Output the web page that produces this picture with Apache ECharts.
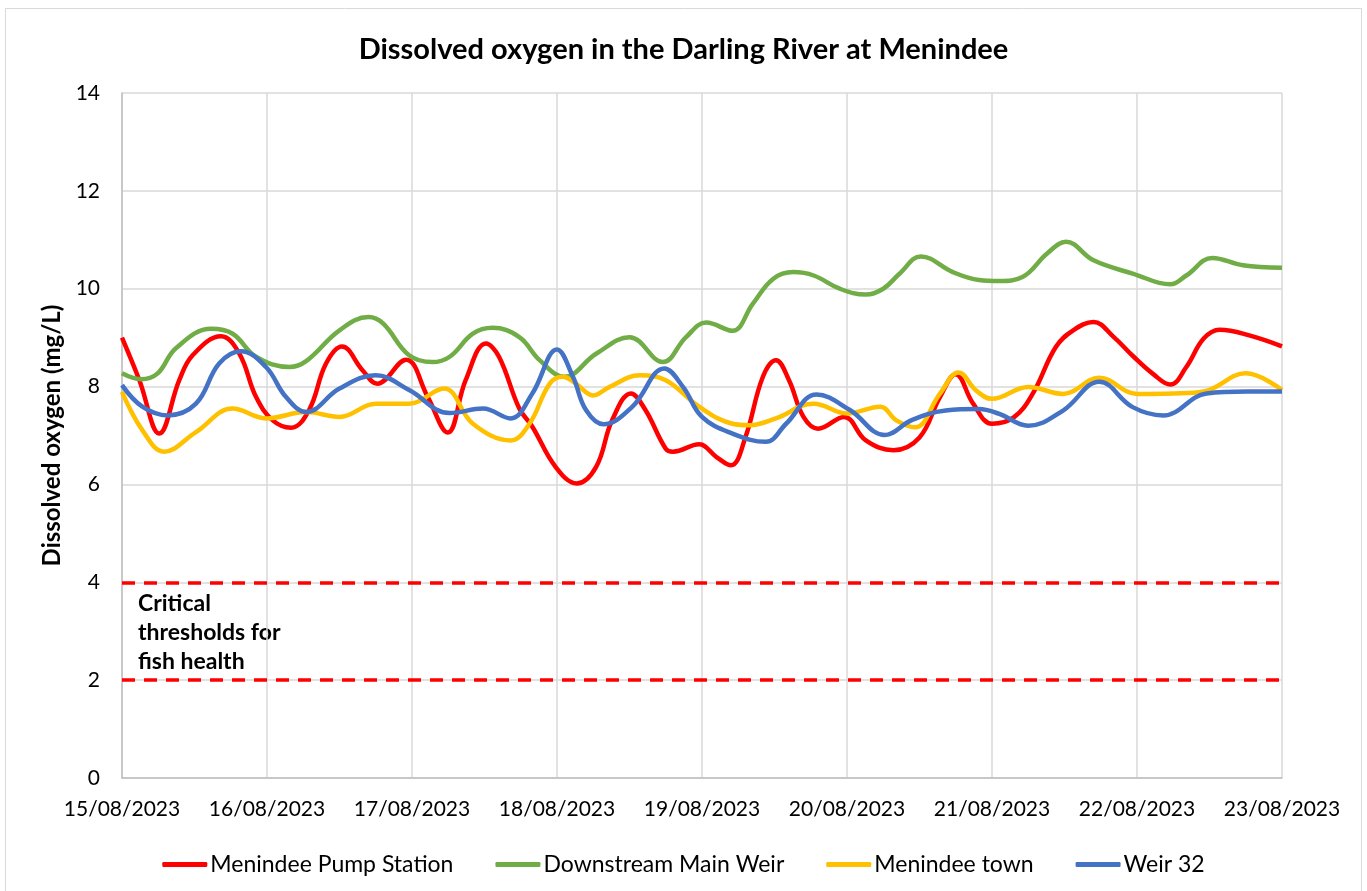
<!DOCTYPE html>
<html>
<head>
<meta charset="utf-8">
<script src="https://cdn.jsdelivr.net/npm/echarts@6/dist/echarts.min.js"></script>
<style>
html,body{margin:0;padding:0;background:#fff;}
#chart{width:1367px;height:891px;}
</style>
</head>
<body>
<div id="chart"></div>
<script>
// Tick labels for x axis (one per day, x = days since 15/08/2023)
const xLabels = ['15/08/2023','16/08/2023','17/08/2023','18/08/2023','19/08/2023','20/08/2023','21/08/2023','22/08/2023','23/08/2023'];
const seriesNames = ['Menindee Pump Station','Downstream Main Weir','Menindee town','Weir 32'];
const thresholds = [4, 2];

// [day offset, mg/L]
const pumpStation = [[0,9.0],[0.12,8.13],[0.257,7.04],[0.395,8.13],[0.487,8.64],[0.683,9.03],[0.81,8.67],[0.924,7.79],[1.04,7.31],[1.166,7.16],[1.29,7.52],[1.407,8.47],[1.517,8.82],[1.66,8.33],[1.76,8.06],[1.959,8.55],[2.108,7.79],[2.246,7.06],[2.37,8.13],[2.51,8.88],[2.60,8.61],[2.74,7.55],[2.83,7.18],[2.99,6.36],[3.136,6.02],[3.27,6.36],[3.38,7.31],[3.51,7.86],[3.61,7.52],[3.75,6.73],[3.80,6.67],[3.98,6.82],[4.10,6.56],[4.20,6.39],[4.30,6.97],[4.42,8.20],[4.51,8.54],[4.60,8.13],[4.70,7.38],[4.80,7.14],[4.98,7.38],[5.13,6.90],[5.32,6.70],[5.50,6.96],[5.64,7.78],[5.75,8.25],[5.87,7.65],[6.0,7.24],[6.15,7.37],[6.28,7.85],[6.44,8.81],[6.56,9.15],[6.70,9.32],[6.84,9.01],[6.97,8.63],[7.11,8.26],[7.23,8.04],[7.34,8.40],[7.46,8.98],[7.57,9.16],[7.78,9.04],[8.0,8.82]];
const downstreamWeir = [[0,8.27],[0.13,8.15],[0.246,8.27],[0.37,8.78],[0.614,9.18],[0.763,9.08],[0.924,8.61],[1.154,8.40],[1.27,8.52],[1.50,9.15],[1.70,9.42],[1.80,9.29],[1.98,8.64],[2.14,8.50],[2.26,8.61],[2.42,9.08],[2.556,9.20],[2.74,9.01],[2.88,8.54],[3.05,8.20],[3.27,8.67],[3.50,9.01],[3.73,8.50],[3.89,9.01],[4.03,9.31],[4.21,9.14],[4.35,9.69],[4.49,10.20],[4.63,10.34],[4.77,10.27],[4.95,10.0],[5.13,9.88],[5.25,10.0],[5.36,10.3],[5.51,10.66],[5.73,10.34],[5.91,10.18],[6.05,10.16],[6.21,10.24],[6.38,10.72],[6.51,10.96],[6.70,10.58],[6.97,10.31],[7.23,10.09],[7.34,10.27],[7.52,10.63],[7.73,10.48],[8.0,10.43]];
const menindeeTown = [[0,7.89],[0.14,7.11],[0.29,6.67],[0.51,7.07],[0.763,7.55],[0.993,7.35],[1.27,7.48],[1.50,7.38],[1.75,7.65],[1.98,7.65],[2.22,7.96],[2.42,7.24],[2.68,6.90],[2.81,7.24],[2.95,8.06],[3.04,8.20],[3.13,8.06],[3.25,7.82],[3.36,7.99],[3.57,8.23],[3.75,8.13],[3.98,7.59],[4.21,7.24],[4.33,7.21],[4.51,7.35],[4.77,7.65],[5.0,7.45],[5.23,7.59],[5.34,7.31],[5.47,7.17],[5.64,7.85],[5.77,8.29],[5.89,7.92],[6.0,7.75],[6.25,7.99],[6.49,7.85],[6.74,8.18],[7.0,7.85],[7.25,7.86],[7.46,7.90],[7.75,8.27],[8.0,7.93]];
const weir32 = [[0,8.03],[0.14,7.59],[0.315,7.41],[0.51,7.65],[0.67,8.47],[0.82,8.72],[0.993,8.40],[1.13,7.79],[1.27,7.48],[1.50,7.96],[1.75,8.23],[1.98,7.93],[2.26,7.46],[2.49,7.55],[2.68,7.35],[2.83,7.86],[3.0,8.76],[3.11,8.20],[3.20,7.52],[3.32,7.23],[3.52,7.59],[3.74,8.37],[3.87,7.99],[4.0,7.38],[4.21,7.04],[4.44,6.87],[4.58,7.24],[4.79,7.84],[5.02,7.52],[5.26,7.01],[5.45,7.32],[5.68,7.51],[5.91,7.54],[6.05,7.44],[6.25,7.20],[6.49,7.51],[6.74,8.10],[6.97,7.58],[7.18,7.41],[7.48,7.86],[7.76,7.90],[8.0,7.90]];

const colors = ['#FF0000','#70AD47','#FFC000','#4472C4'];
const FONT = 'Lato, "Open Sans", sans-serif';

const chart = echarts.init(document.getElementById('chart'));
const dataSets = [pumpStation, downstreamWeir, menindeeTown, weir32];
const series = dataSets.map((d, i) => ({
  name: seriesNames[i],
  type: 'line',
  data: d,
  smooth: 0.4,
  showSymbol: false,
  symbol: 'none',
  lineStyle: { color: colors[i], width: 4.5 },
  itemStyle: { color: colors[i] },
  z: 3 + i
}));
series.unshift({
  name: 'thresholds',
  type: 'line',
  data: [],
  silent: true,
  markLine: {
    silent: true,
    symbol: 'none',
    label: { show: false },
    lineStyle: { color: '#FF0000', width: 3.5, type: [13, 9] },
    data: thresholds.map(v => ({ yAxis: v }))
  },
  z: 2
});

chart.setOption({
  animation: false,
  textStyle: { fontFamily: FONT },
  title: {
    text: 'Dissolved oxygen in the Darling River at Menindee',
    left: 'center',
    top: 30,
    textStyle: { fontFamily: FONT, fontSize: 29, fontWeight: 'bold', color: '#000' }
  },
  legend: {
    data: seriesNames,
    top: 848,
    left: 'center',
    icon: 'roundRect',
    itemWidth: 45,
    itemHeight: 5,
    itemGap: 42,
    textStyle: { fontFamily: FONT, fontSize: 23, color: '#000', padding: [0, 0, 0, -2] }
  },
  grid: { left: 122, right: 85, top: 93, bottom: 113, containLabel: false },
  xAxis: {
    type: 'value',
    min: 0,
    max: 8,
    interval: 1,
    axisLine: { show: true, lineStyle: { color: '#BFBFBF', width: 1.5 } },
    axisTick: { show: false },
    splitLine: { show: true, lineStyle: { color: '#D9D9D9', width: 1.5 } },
    axisLabel: {
      formatter: v => xLabels[Math.round(v)] || '',
      fontFamily: FONT, fontSize: 21, color: '#000', margin: 21
    }
  },
  yAxis: {
    type: 'value',
    min: 0,
    max: 14,
    interval: 2,
    name: 'Dissolved oxygen (mg/L)',
    nameLocation: 'middle',
    nameGap: 56,
    nameTextStyle: { fontFamily: FONT, fontSize: 24, fontWeight: 'bold', color: '#000' },
    axisLine: { show: true, lineStyle: { color: '#BFBFBF', width: 1.5 } },
    axisTick: { show: false },
    splitLine: { show: true, lineStyle: { color: '#D9D9D9', width: 1.5 } },
    axisLabel: { fontFamily: FONT, fontSize: 21, color: '#000', margin: 22 }
  },
  graphic: [
    {
      type: 'rect',
      shape: { x: 5.5, y: 8.5, width: 1356, height: 900 },
      style: { fill: 'none', stroke: '#D9D9D9', lineWidth: 1 },
      silent: true,
      z: -1
    },
    {
      type: 'text',
      left: 138,
      top: 589,
      style: {
        text: 'Critical\nthresholds for\nfish health',
        font: 'bold 23px ' + FONT,
        fill: '#000',
        lineHeight: 29
      }
    }
  ],
  series: series
});
</script>
</body>
</html>
